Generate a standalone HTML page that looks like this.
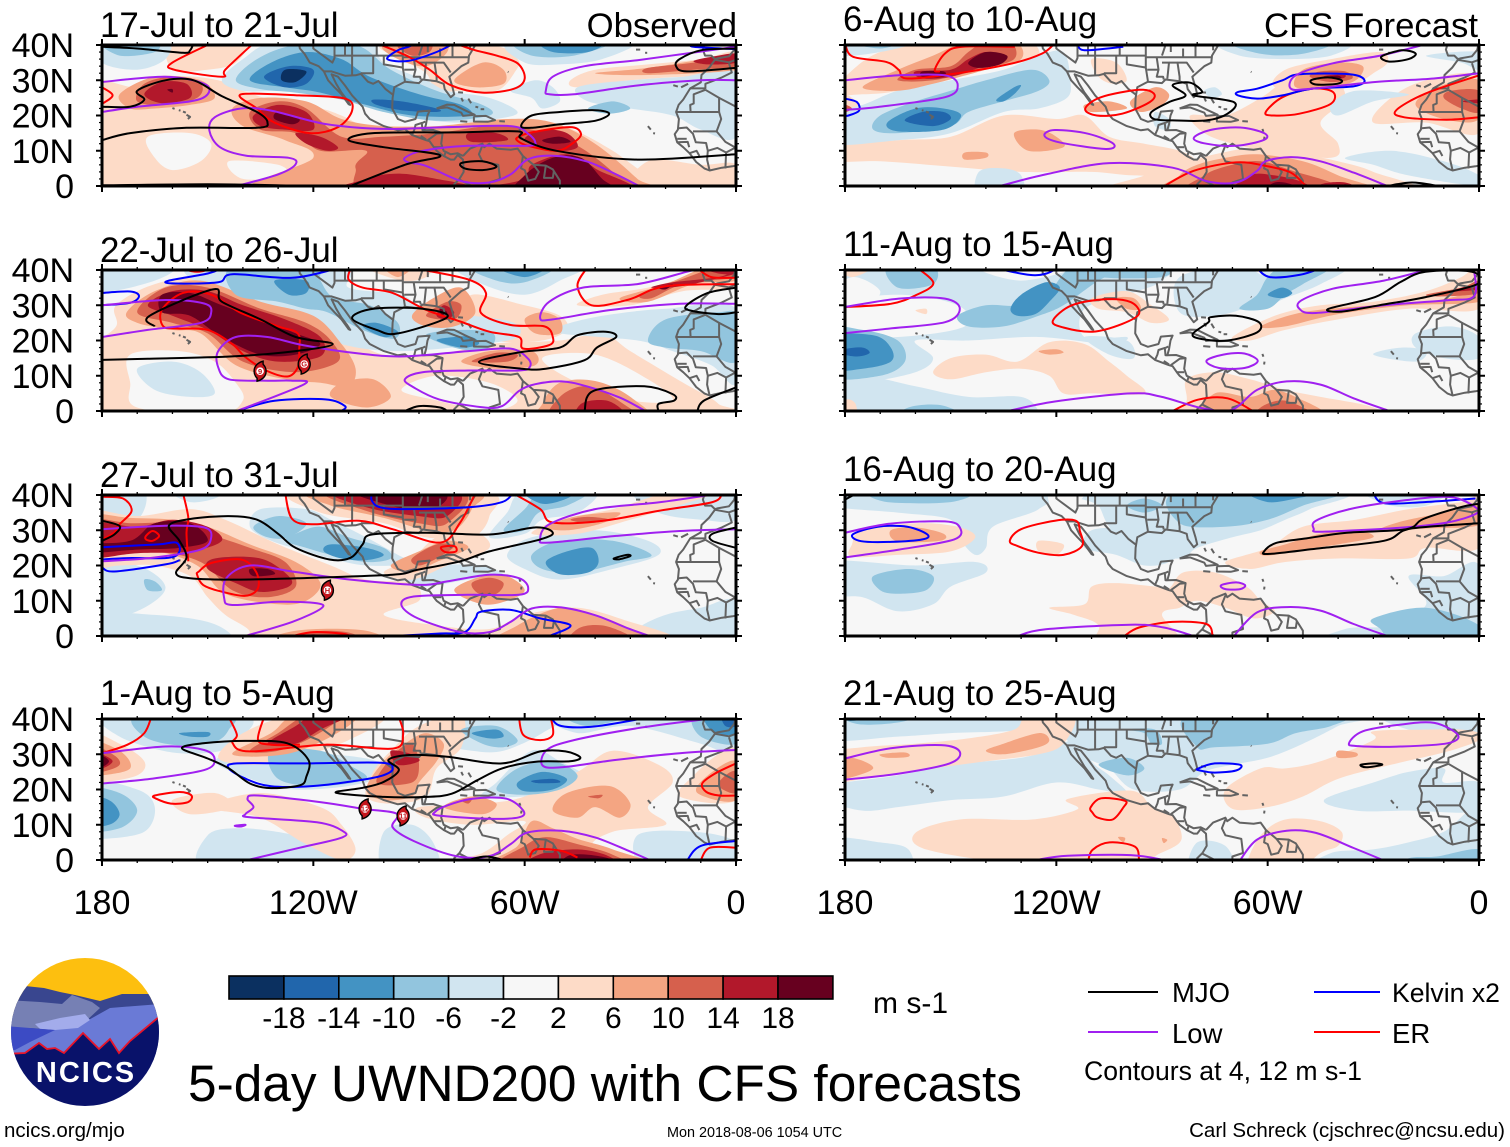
<!DOCTYPE html>
<html lang="en">
<head>
<meta charset="utf-8">
<title>5-day UWND200 with CFS forecasts</title>
<style>
html,body{margin:0;padding:0;background:#fff;}
svg{display:block;font-family:"Liberation Sans",sans-serif;}
</style>
</head>
<body>
<svg id="chart" xmlns="http://www.w3.org/2000/svg" width="1510" height="1147" viewBox="0 0 1510 1147">
  <rect width="1510" height="1147" fill="#fff"/>
  <g id="panels"></g>
  <g id="colorbar"></g>
  <text x="873" y="1013" font-size="30">m s-1</text>
  <text x="188" y="1101" font-size="51.4">5-day UWND200 with CFS forecasts</text>

  <g>
    <line x1="1088" y1="992" x2="1158" y2="992" stroke="#000" stroke-width="2"/>
    <text x="1172" y="1002" font-size="27.5">MJO</text>
    <line x1="1314" y1="992" x2="1380" y2="992" stroke="#0000ff" stroke-width="2"/>
    <text x="1392" y="1002" font-size="26.6">Kelvin x2</text>
    <line x1="1088" y1="1032" x2="1158" y2="1032" stroke="#a020f0" stroke-width="2"/>
    <text x="1172" y="1043" font-size="27.5">Low</text>
    <line x1="1314" y1="1032" x2="1380" y2="1032" stroke="#ff0000" stroke-width="2"/>
    <text x="1392" y="1043" font-size="27.5">ER</text>
    <text x="1084" y="1080" font-size="26.6">Contours at 4, 12 m s-1</text>
  </g>

  <g>
    <clipPath id="logoClip"><circle cx="85" cy="1032" r="74"/></clipPath>
    <g clip-path="url(#logoClip)">
      <rect x="10" y="957" width="150" height="60" fill="#fdbf0f"/>
      <path d="M5 990 L25 986 L44 988 L60 992 L75 995 L100 1001 L122 994 L160 994 L160 1060 L5 1060Z" fill="#39468f"/>
      <path d="M5 1000 L40 1002 L62 1004 L72 995 L92 1002 L100 1008 L85 1022 L60 1030 L30 1028 L5 1030Z" fill="#7680b4"/>
      <path d="M5 1052 L50 1030 L85 1022 L110 1008 L160 1004 L160 1020 L130 1042 L118 1054 L99 1050 L83 1034 L64 1054 L46 1050 L39 1044 L25 1054 L5 1056Z" fill="#6a7ad6"/>
      <path d="M35 1024 L60 1018 L85 1014 L90 1020 L78 1028 L55 1030 L40 1029Z" fill="#a3aceb"/>
      <path d="M5 1026 L30 1028 L55 1030 L30 1042 L15 1050 L5 1052Z" fill="#3c4bc4"/>
      <path d="M5 1054 L25 1053 L39 1043 L47 1049 L55 1048 L64 1053 L83 1033 L99 1049 L110 1039 L119 1053 L130 1041 L160 1016 L160 1110 L5 1110Z" fill="#09126a"/>
      <polyline points="5,1054 25,1053 39,1043 47,1049 55,1048 64,1053 83,1033 99,1049 110,1039 119,1053 130,1041 160,1016" fill="none" stroke="#e8142a" stroke-width="1.8"/>
      <text x="86" y="1082" font-size="29" font-weight="bold" fill="#fff" text-anchor="middle" letter-spacing="2">NCICS</text>
    </g>
  </g>

  <text x="4" y="1137" font-size="20.5">ncics.org/mjo</text>
  <text x="667" y="1137" font-size="14.4">Mon 2018-08-06 1054 UTC</text>
  <text x="1505" y="1137" font-size="20.5" text-anchor="end">Carl Schreck (cjschrec@ncsu.edu)</text>
</svg>

<script>
/* ---------- axes ---------- */
const latTickValues = [0, 10, 20, 30, 40];
const latTickLabels = ['0', '10N', '20N', '30N', '40N'];
const lonTickValues = [180, 120, 60, 0];
const lonTickLabels = ['180', '120W', '60W', '0'];

/* ---------- colour scale ---------- */
const colorbarLabels = [-18, -14, -10, -6, -2, 2, 6, 10, 14, 18];
const colorbarColors = ['#0b3060', '#2166ac', '#4393c3', '#92c5de', '#d1e5f0', '#f7f7f7', '#fddbc7', '#f4a582', '#d6604d', '#b2182b', '#67001f'];
const shadeLevels = [-20, -16, -12, -8, -4, 0, 4, 8, 12, 16, 20];

/* ---------- base map (degrees west, degrees north) ---------- */
const coastLines = [
 [126,40,124,40,123.8,39,122.5,37.5,121,35,118.5,34,117,32.5,115.8,30,114,28,112,26,110,23.2,109.5,23,110.5,24.5,112,26.5,113.5,29,114.8,31.7,113,31,111,28.5,109,25.7,106,22.5,105.3,20.5,104,19,100,17,96,15.8,94,16.1,92,14.5,88,13,87,12.7,85.8,11,85,10,83,8.5,81,7.5,80,7.5,79,8.8,77.5,7.5,77.3,4,78.5,2,80,0.5,80.2,-1],
 [77.5,8.5,79,9.3,81,9,83,10,83.7,12,83.3,15,86,15.9,88.5,15.8,88,17.5,87.6,20,87,21.4,90.3,21.1,91,19,94,18.2,96,19,97.6,22,97.5,25,97,28,94,29.6,90,29.2,89,30.2,85,29.7,83,29,82.7,27.5,81,25.2,80,26,80.5,28,81.4,31,78,34,76,35,75.8,37,74,40],
 [77.5,8.5,75.5,10.6,72,12,71.5,11,70,12,68,10.6,64,10.3,62,10.6,60.5,8.5,57.5,6,54,5.8,52,4.7,50,1.5,50,-1],
 [72,11.5,73,9,72,7,67.5,6,67,2,70,1,70,-1],
 [60.5,8.5,61,5,60,4.5,59,1.5,57,2,56,4,57.5,6],
 [54,5.8,54.5,2.3,52,2.3,51.7,4.3],
 [78.5,1.8,75,0],
 [117,32.5,114.8,32.5,111,31.3,108,31.4,106.5,31.8,104.5,29.6,103,29,101.5,29.8,99.5,27.5,97.4,25.9],
 [92,14.5,91.3,16,91,17.3,89.2,17.9,89,15.8,88.5,15.8],
 [89,17.9,88.2,18.3],[89.5,14.2,88,13.2],[87.5,13,85,14.8,83.2,15],[85.7,11,83.7,11],[82.9,8.2,82.5,9.5],
 [124,42,120,42,120,39,114.6,35,114,36.3,114,42],
 [111,41,111,37],[109,41,109,31.3],[103,37,103,32,106.5,32],[114,37,94.6,37],[109,41,102,41,102,37],[100,37,100,34.5,94.5,33.6],
 [94.6,40,94.6,33.6,94,29.8],[94.5,36.5,76,36.5],[94.2,33,91.2,33],[91.5,36.5,91,33,91.5,31,89.7,31,89.5,30.2],
 [90,35,88,35,88.5,30.4],[88,35,85.6,35,85,31,85,29.9],[85.6,35,83,35,81,32.2],[84,39,84,36.5],[80.5,40,80.5,36.5],[75.5,38.5,75.5,40],[90,37,89,40],[87.5,38,87.5,41],
 [85,22,82,23.1,80,23,77,21.5,74.2,20.2,77.5,19.9,78,20.8,82,22.3,85,22],
 [74.4,19.8,71,19.9,68.4,18.7,70.5,18.2,74.4,18.3,74.4,19.8],
 [78.3,18.4,76.3,18.2],[67.2,18.4,65.6,18.3],
 [78.9,26.6,77.5,26.5],[78,25,77.5,24],[76,24.8,75.2,23.5],[74,22.5,73.2,22.3],[72.5,21.8,71.5,21.8],
 [61.5,16.2,61.2,15.4],[60.9,14,61,13.2],[64.8,32.4,64.6,32.3],[28.4,38.7,27.2,38.7],[25.8,37.8,25.2,37.8],
 [17.8,28.6,16.5,28.2],[15.6,28,13.6,29],[25,17,24.2,16],[23.5,15,23,14.9],
 [160,22.1,159.4,21.9],[158.2,21.5,157.7,21.4],[157,21.1,156.2,20.8],[156,20.2,155,19.6,155.6,19],
 [9,40,9.4,38.7,8.8,37,7,37,6,36,5.3,36.2,2,36.8,0.5,38.6,0.2,40],
 [6,35.8,7.6,33.6,9.8,31.5,10,29.4,13,27.7,15,24.5,16.3,23,17,21,16.2,19,16.5,16,17.4,14.7,16.7,12.4,15,11,13.2,9.3,11.3,6.8,9,5,7.5,4.4,4,5.2,1,5.6,0,5.8],
 [6,35.8,2,35.1,0,35.8],
 [13,27.7,8.7,27.7,8.7,29,4,30.8,1.2,32.2,2,34.8],
 [8.7,27.3,4.8,25,4.8,21,12.9,21,13,23,12,23.4,12,26,8.7,27.3],
 [17,21,12.9,21],[4.8,25,0,22.5],
 [16.3,16.4,14,16.6,12.2,14.8,11.4,12.4,8.5,12.2,8,10,8.2,7.5,7.5,4.4],
 [12.2,15.5,5.5,15.5,4.2,19,4.8,21],[5.5,15.5,3,12.5,0,10.8],[16.7,13.4,14,13.4],[16.7,12.4,13.7,12.5,13.3,11],[13.2,9.3,11.2,10,10.4,8.5],
 [3,5,2.8,9.5,5.3,10.8,8,10],[2.8,9.5,0,11],[0,5.8,0.2,11]
];

/* ---------- panel 1: 17-Jul to 21-Jul ---------- */
const p1Shading = [
 [4,185,28,170,28,158,31,147,30,140,27,130,24,118,22,112,20,105,17,95,17,85,17,70,18,60,19,52,18,44,15,35,10,28,5,20,0,20,-3,185,-3],
 [4,25,7,10,6,0,6,0,-3,30,-3],
 [4,100,40,95,36,88,32,85,27,78,27,68,27,63,32,62,36,70,40],
 [4,160,33,150,33,142,35,140,41,160,41],
 [4,47,30,40,33,25,34.5,10,36,0,38,0,31,15,31,30,30,45,28],
 [-4,180,41,180,35,170,33,162,36,162,41],
 [-4,146,30,140,36,130,41,105,41,100,35,88,30,82,27,70,25,62,21,68,19,80,18,95,20,108,24,118,27,130,27,140,27],
 [-4,64,41,60,35,50,34.5,38,36,30,41],
 [-4,45,28,30,30,15,31,0,32,0,14,10,16,18,20,30,22,42,24],
 [-4,64,27,58,25,55,22,50,24,52,28,57,30],
 [0,167,14,155,15,149,12,152,7,160,4.5,165,8],
 [0,144,7,130,6,128,3,140,2],
 [0,87,7,82,6,80,4,86,4],
 [8,143,22,135,25,122,24,112,19,100,17,85,17,65,19,52,18,40,12,28,2,24,-3,135,-3,120,8,128,13,140,17],
 [8,172,22,175,26,165,31,152,30,148,25,155,23,165,22],
 [8,100,40,96,36,88,34,82,38,84,41],
 [8,80,30,72,35,66,33,66,29,74,28],
 [8,40,32,25,33.5,0,37,0,33,25,31.5],
 [-8,180,41,175,37,165,38,165,41],
 [-8,142,30,136,36,125,40,108,40,98,33,85,27,72,23,70,20,85,18.5,100,21,112,24.5,125,26.5,135,27.5],
 [-8,62,41,58,37,46,37,36,41],
 [-8,42,22,35,24,30,22,36,20.5],
 [12,138,21,130,24,122,22,112,14,100,14,85,15,70,17,58,16,46,12,35,4,30,-3,100,-3,108,5,105,10,118,10,125,15,135,16],
 [12,170,24,168,29,160,31,152,29,153,25,162,23],
 [12,25,33.5,12,35,0,37,0,34,12,33,25,32],
 [12,96,40,92,37,87,38,87,41],
 [-12,138,30,132,35,122,38,112,36,104,31,90,26,78,23,76,20,92,20,105,23,118,26.5,128,28],
 [-12,55,41,52,38,42,38,38,41],
 [16,112,-3,105,2,95,3.5,82,1.5,72,0,60,2,58,6,48,9,40,5,32,-3],
 [16,125,15,118,14,113,11,116,10,122,12],
 [16,137,20,130,23,122,21,120,16,128,16,135,17],
 [16,76,15,68,15,65,13,75,12.5],
 [16,60,13,55,16,48,15,45,11,52,10],
 [16,168,26,163,29.5,156,29,155,25,163,23.5],
 [16,12,35.5,5,37,0,37.5,0,35,8,34.5],
 [-16,134,31,127,34,120,33,122,29,128,28],
 [-16,103,24.5,95,24,85,22,85,21,95,21.5,102,23],
 [20,130,21,124,19,126,17.5,131,19],
 [20,55,13,50,14,47,12.5,52,12],
 [20,62,-3,60,3,52,8,44,8,38,2,33,-3],
 [20,161.5,27.3,160,27.5,160,26.5],
 [-20,128,33,122,32.5,125,29.5,129,30]
];
const p1Mjo = [
 [0,180,22.5,172,22.5,168,24.5,170,27,162,30,154,30,146,25.5,136,21,133,18,136,16.5,156,16.5,172,15,180,13],
 [0,180,39.5,170,39,157,37.8,155,38.5,154,40.5],
 [1,61,17,58,20,50,21,40,21.5,36,20.5,40,18.5,50,17.5,58,16.5],
 [0,112,-1,94,6,84,8.7,100,11,110,13,103,15,80,15.2,62,15.5,61,13.5,51,10,28,7.5,0,9],
 [1,78,6.5,72,7,68,5.5,72,4.5,77,5],
 [0,0,39,10,38.5,16,36,17,34,14,32.5,0,33.5],
 [0,180,0.2,150,0.5,125,0.1]
];
const p1Low = [
 [0,180,29.5,162,31,151,29,150,26,155,24,170,22.5,180,21],
 [0,141.7,0,130,3.3,125,6.2,127,8,139,8.6,146.5,11,149.5,15.7,148,19.5,140.5,22,132,21.4,116.6,17.6,100,16.2,82,16.7,64,17,59,14.8,57,12.4,59,11.4,76,11.4,89,10,94,8,93,6.7,88,5.7,78,1.4,70,1,64,3.3,59,7.6,52,8.6,42.5,7,34,3.3,27.5,0],
 [0,0,30,10,30,28,28.5,46,26,53,26,54,27,52,31,43,34,28,35.7,14,37.6,0,39.5]
];
const p1Er = [
 [0,149,40.5,160,35,159.5,33,146,31,145,33,137,40.5],
 [0,180,28,177,25.7,180,23.3],
 [1,140.5,26,136,22,131,18,121,15,113,16.7,109,21.4,111,24.8,124,25.7],
 [0,102,40.5,93,36.7,87,33,81,28.6,72,26.5,63,27.6,60,30.5,62,34.8,68,37,74,38.5,80,40.5],
 [1,62,13.8,58,15.2,47,16.7,44,14.8,46,12.4,50.8,10,59,11.4,62,12.8]
];
const p1Kelvin = [
 [0,80,40.5,85,38,93,35.5,99,36,96,38.5,93,39.5,91,40.5],
 [0,12.5,40.5,12,39.5,0,38.8]
];
const p1Storms = [];

/* ---------- panel 2: 22-Jul to 26-Jul ---------- */
const p2Shading = [
 [4,183,18,176,24,176,30,165,36,150,38,135,33,120,28,110,21,100,16,85,16,70,19,50,20,38,22,30,17,15,8,5,2,5,-3,185,-3,185,10],
 [4,45,30,38,33,25,35,10,39,0,41,0,35,15,34,30,30],
 [4,105,41,95,37,88,38,88,41],
 [4,75,33,60,30,50,27,48,23,55,20,68,20,76,26],
 [-4,180,41,180,34,165,37,160,41],
 [-4,155,41,147,33,135,28,122,25,112,19,95,17,72,19,62,21,63,25,75,27,88,28,95,33,110,35,112,41],
 [-4,78,41,72,36,60,33,50,37,45,41],
 [-4,50,24,38,27,20,29,0,29,0,8,7,13,18,17,28,20,50,22],
 [0,172,16,158,17,148,14,142,8,140,3,147,-1,170,1,172,8],
 [0,85,10,70,8,62,3,70,0,85,3,95,6],
 [0,55,15,40,16,25,9,18,3,30,3,45,8],
 [-4,170,12,160,14,152,11,148,5,155,4,165,6],
 [8,173,28,165,34,152,37,135,31,120,27,112,19,108,12,110,7,118,8,128,9,142,13,152,22,160,23,170,25],
 [8,112,8,103,9,98,4,105,1,115,4],
 [8,78,14,70,17,58,17,57,13,68,12],
 [8,55,2,50,8,40,8.5,30,4,25,-3,55,-3],
 [8,33,32,20,36,8,41,0,41,0,37,12,36,25,31],
 [8,92,27,86,32,78,35,74,28,80,24,88,24],
 [8,100,41,96,38,92,41],
 [8,60,26,55,28,50,26,50,22,57,22],
 [-8,25,20,20,26,5,28,0,27,0,14,10,17,20,18],
 [-8,143,41,142,33,130,31,122,29,116,28,106,23,97,20.5,96,25,104,30,114,32,118,37,120,41],
 [-8,88,21.5,78,17.5,70,18,69,22,78,23],
 [-8,75,41,68,37,60,36.5,52,41],
 [12,170,28,162,35,150,35,135,29,122,25,115,20,113,14,125,11,140,14,150,22,160,25],
 [12,75,14,68,16.5,62,16,65,14],
 [12,52,-3,50,4,42,7,32,2,28,-3],
 [12,27,33,15,37.5,5,41,0,41,0,38,15,36,24,32],
 [12,88,27,82,31,78,30,80,26],
 [-12,131,37,127,33,122,33.5,122,37],
 [-12,106,24,100,21,96,22.5,102,25],
 [-12,85,20,78,18,73,19,75,21,80,21],
 [-12,68,41,60,38,54,41],
 [16,167,30,160,34,150,34,140,30,128,26,118,21,118,15.5,130,14,140,17,150,23,160,27],
 [16,45,-3,44,2,37,3,32,0,32,-3],
 [16,24,35,18,36.5,5,38,0,40,0,39,15,35.5],
 [16,10,41,5,39,0,39,0,41],
 [16,85,27,83,30,80,28,82,26],
 [20,163,33,155,33.5,146,30,135,26,125,22,118,19,125,16,135,16,146,21,155,27,163,28],
 [20,22,35,18,36,20,34.5],
 [20,84,29,83.5,27,82,28]
];
const p2Mjo = [
 [0,165,24,166.5,27,148.5,34.5,146,31,135,26,125,21,114.5,19,125,17,143,15.5,167,14.8,180,14.5],
 [1,109,26.3,103,29,89,29,82,26.6,96,22,102,23],
 [1,73,13.9,61,16.7,50,18,45,21.5,37,22.5,34,21,39.5,18,43,14.4,54,12,61,12],
 [0,94,0,90,1.4,84,1,82,0],
 [0,43,0,40.5,5.7,26,7,18,4.8,17.5,3,22,2,22,0],
 [0,11,0,9,3,0,6.7],
 [0,0,35,8,33.5,14,30,13,28.5,5,27.5,0,28]
];
const p2Low = [
 [0,180,30,162,31.5,151,30.5,149,28,152,25,167,23,180,21],
 [0,141.7,0,122.6,7.6,126,8.6,133,8.6,144,9,147,12.4,147,17,142,21,133,21,122.6,18.6,107,16.3,94,15.5,76,17,64,17.7,59,14.8,58.6,12.4,61.6,11.5,76,11.5,89,11,94,9,91.5,6.7,84.3,3.3,72.4,1.1,66.4,1.4,61.6,5.7,57,7.6,49.6,8.4,42.4,7,33,3.8,25.7,0],
 [0,0,30.4,16,30.4,35,28.7,52,26,55.6,26.3,53,31,43.5,35,28,36,14,39.5,8,41]
];
const p2Er = [
 [0,158,40.5,153,39.5,148,40.5],
 [1,162.6,24,163,28.7,157,33.5,149,33,140.5,27.8,130,24,124.4,22,124,17.2,124.4,12.4,127.4,9.8,133.4,11.5,139.3,15.3,143,19,150,23,158.5,23.4],
 [0,91.5,40.5,76,37.3,71,33.5,72.4,27.8,64,24.4,54.4,24,52,21,53,18.7,60.4,17.7,61.6,21,70,22.5,78.3,25.4,88,28.7,97.5,33.5,106,35,110,37.3,109.4,40.5],
 [0,42.4,40.5,45,35.4,41,30,30.5,31.6,20,35.4,0,36],
 [0,11,40.5,7,38,0,37.8]
];
const p2Kelvin = [
 [0,113,40.5,126,37.8,143,38.8,147,36.5,160,36.2,161,37,150,39,146,40.5],
 [0,180,33.5,172,33.9,169.5,32.6,172,30.7,180,30],
 [0,141.7,0,131,2.9,116.6,3.3,111,1.4,112,0]
];
const p2Storms = [[135.1,11.3,'9'],[122.6,13.3,'G']];

/* ---------- panel 3: 27-Jul to 31-Jul ---------- */
const p3Shading = [
 [-4,180,41,180,33,170,33,168,41],
 [-4,185,21,170,20,162,14,168,8,180,4,185,6],
 [-4,183,6,165,6,150,4,143,0,145,-3,183,-3],
 [-4,138,31,135,36,122,36,115,33,105,28,96,23,92,20.5,105,20,115,22,122,24,132,27],
 [-4,70,28,65,35,60,41,40,41,45,35,55,33,60,29],
 [-4,65,23,58,28,40,30,25,27,22,23,35,19,50,16,60,19],
 [-4,95,18,85,20,72,20,66,17,76,16,90,14],
 [-4,20,6,10,8,0,10,0,-3,30,-3,28,2],
 [-4,28,41,22,35,10,33,0,33,0,41],
 [-4,160,41,155,38,148,39,147,41],
 [4,185,35,170,34,155,36,145,33,130,26,115,20,105,16,92,15,90,10,100,6,85,3,70,2,60,6,45,8,30,4,18,0,18,-3,145,-3,138,1,145,6,150,11,155,17,165,20,175,20,185,20],
 [4,100,18,92,22,85,28,75,30,70,25,82,20,92,16],
 [4,125,41,118,35,100,32,88,28,75,28,70,34,72,41],
 [4,58,29,50,33,35,36,18,41,5,41,18,36.5,30,33,45,29],
 [8,185,34,172,33.5,160,33,150,31,138,26,125,21,118,15,122,10,130,9,145,12,153,20,165,24,180,23,185,23],
 [8,98,20,90,24,82,27,76,25,85,21,92,18],
 [8,120,41,115,37,100,33.5,88,30,80,30,75,36,75,41],
 [8,54,31,45,34,33,35,38,32,48,30],
 [8,80,13,72,17,65,17,60,13,65,10,72,9],
 [8,62,3,50,8,40,6,30,2,25,-3,68,-3],
 [8,135,-3,125,1.5,105,1.5,100,-3],
 [-8,168,16,165,15.5,163,13,167,13],
 [-8,118,31,110,28,100,25,98,22,105,21,115,23,122,25,128,27,125,29],
 [-8,137,31,130,34,122,32,127,28,133,28],
 [-8,66,30,60,36,55,41,42,41,48,37,56,35,60,30],
 [-8,58,23,50,27,35,27,24,23,32,21,45,18,55,19],
 [12,185,33,172,32,160,32,150,29,138,25,128,21,125,14,133,11,143,13,152,21,165,24,180,24,185,24],
 [12,92,22,85,26,80,25.5,85,22,90,20],
 [12,116,41,105,35.5,90,32,82,32,78,41],
 [12,47,33,42,33.8,36,33,42,32],
 [12,75,15,70,16.5,66,15,68,12,73,12],
 [12,45,2,38,3,30,0,28,-3,47,-3],
 [12,130,-3,122,1,110,1,105,-3],
 [-12,115,26,105,25,100,23,105,21.5,112,22,117,24],
 [-12,54,21,48,24,41,25,39,21,42,18,50,17.5],
 [-12,60,41,55,37.5,48,39,47,41],
 [16,185,32,170,31,160,33,150,31,146,27,155,24,170,23.5,185,22.5],
 [16,148,22,135,22,127,17,127,14,135,12.5,142,15,150,19],
 [16,114,41,105,36.5,90,34,82,34,80,41],
 [16,125,-3,120,0.5,112,-3],
 [20,185,26,172,27,165,32,155,32,150,27,158,25,170,24.5,185,23.5],
 [20,138,19,133,19,131,17.5,137,17],
 [20,108,41,100,37.5,92,36,84,37,84,41]
];
const p3Mjo = [
 [0,180,32.7,175,31.2,176.5,28.8,180,27],
 [1,161,31.3,155,33.2,144,34,136,33,130,29,125,25,115.4,21.7,109.4,22.2,106,26,103.4,28.8,88,29.3,70,28.8,56.8,30.8,52,29.3,55.6,27.4,70,24,78.3,21.2,90.3,18.8,97.5,17.4,123.8,16.4,141.7,16,155,16.4,159,17.9,156,22.2,158,27],
 [1,34.7,22,31,23,30,22.7,33,21.8],
 [0,0,30.8,6.7,29,6.7,27,0,25]
];
const p3Low = [
 [0,180,30.3,162,31.3,151,30.8,149,28,152,24.5,165.6,22.2,180,21.2],
 [0,139.3,0,126,4,117.8,7.8,119,9.3,130,9.7,143,8.8,145.3,10.7,144.7,16.4,138,20,126,18.3,109.4,16,90.3,14.5,82,15.5,70,17.4,61.6,16.4,59,13.6,61.6,11.7,76,11.7,91.5,11.2,95,8.8,90.3,5,78.3,1.1,70,1.1,64,4,58,7.8,49.6,8.1,40,5.9,30.5,2.1,24.5,0],
 [0,0,30.3,16,29.8,34,28.4,53,26.5,55.6,27.4,53,31.7,40,36,22,37.9,4,40.5]
];
const p3Er = [
 [0,180,39.5,174,39,171.6,35.5,175,31.7,176.5,29.3,180,27.4],
 [0,157,40.5,155.5,33.6,156,29.3,155.5,21.2],
 [1,167.5,28.4,165.6,29.8,163.8,28.4,165.6,27,167.5,27.4],
 [1,152.5,18.3,149,20.7,140.5,21.7,136.3,18.3,135.7,13.6,139.3,11.4,146.5,12.7,151.3,14.5,153,17.4],
 [0,128,40.5,126,33.2,120,31.7,107,32.7,97.5,30.3,84,26.5,78.3,32.2,74,40.5],
 [1,83.7,25.2,80,25.5,79.5,24,82.5,23.8],
 [0,63.3,40.5,55.6,36,52,32.2,37.7,32.7,22,35.5,6.7,38,4,40.5],
 [0,126,0,120,1.1,112,0.7,109.4,0]
];
const p3Kelvin = [
 [0,180,25.2,164,26,159,26.5,158,24,161,22.2,172.8,22.1,180,21.7],
 [0,180,19.5,176.5,18.3,162,20.3,158,21.5],
 [0,103.4,40.5,103.4,38.4,101,36.5,94,36,76,36.5,66.4,38,63.3,40.5],
 [0,97.5,0,84,0.7,77,1.1,74,5,72.4,6.9,64,7.4,55.6,5,47,3,53,0]
];
const p3Storms = [[116,13,'H']];

/* ---------- panel 4: 1-Aug to 5-Aug ---------- */
const p4Shading = [
 [-4,178,41,175,35,160,30.5,146,31,140,35,140,41],
 [-4,185,22,170,20,165,15,168,8,180,6,185,7],
 [-4,148,28,135,31,115,30,102,28,100,24,110,21,125,20,135,22],
 [-4,72,18,68,22,58,31,50,28,42,23,48,19,60,18],
 [-4,86,38,78,41,50,41,55,36,66,31,75,31,83,33],
 [-4,50,41,45,36,30,38,10,33,0,30,0,41],
 [-4,150,7,140,9,125,7,118,4,110,-3,150,-3],
 [-4,100,8,92,10,86,5,85,-3,100,-3],
 [-4,28,7,12,8,0,5,0,-3,25,-3],
 [4,185,36,175,33,168,28,170,24,180,22,185,22],
 [4,147,29,140,36,125,41,100,41,110,34,125,29,137,27],
 [4,105,18,103,25,98,31,90,38,78,41,78,32,85,26,88,18,98,16],
 [4,150,15,135,19,118,15,112,10,108,3,112,0,123,5,135,12],
 [4,160,17,148,19,143,15,155,13],
 [4,90,15,72,16,60,18,45,25,35,31,22,27,18,22,25,15,20,10,35,8,40,3,18,-3,85,-3,72,2,65,7,60,11,75,10,88,12],
 [4,16,18,12,24,5,30,0,31,0,17],
 [-8,170,41,168,35,158,32.5,148,33.5,144,37,144,41],
 [-8,185,20,175,19,170,14,175,9,185,9],
 [-8,132,31,118,31,110,27,105,23,118,21,130,23],
 [-8,68,20,62,26,52,28,45,24,50,20,60,18.5],
 [-8,78,37,72,33,66,32,62,34,68,38],
 [-8,48,41,42,38,30,41],
 [-8,12,41,10,35,0,33,0,41],
 [8,185,34,175,31,172,26,180,24,185,24],
 [8,143,30,132,36,125,41,108,41,115,35,128,30],
 [8,105,20,100,28,94,33,88,36,83,33,85,28,90,22,92,18,100,17],
 [8,52,14,48,19,36,21,30,16,33,12,40,15,45,12],
 [8,83,15,75,18,68,16,72,13],
 [8,70,-3,62,4,58,11,52,9,45,6,35,3,22,-3],
 [8,11,19,8,24,0,28,0,17],
 [12,185,33,177,30,175,27,180,25,185,25],
 [12,138,31,130,36,122,41,112,41,120,35,130,31],
 [12,102,22,97,30,92,33,90,27,92,22],
 [12,78,17,75,17.5,76,16],
 [12,42,18,38,18.5,39,17.5],
 [12,68,-3,60,4,54,6.5,45,4.5,35,1.5,30,-3],
 [12,5,21,3,24,0,25,0,19],
 [-12,158,36,155,35,150,35,150,36.3],
 [-12,185,18,178,17,175,13,178,10,185,10],
 [-12,62,22,55,25,48,23,52,20,60,19.5],
 [-12,75,36,70,34.5,66,35,68,37],
 [-12,9,41,6,36,0,36,0,41],
 [16,185,32,180,30,177,28,180,26,185,26],
 [16,133,33,125,38,120,41,110,41,118,37,125,33],
 [16,98,31,92,30,90,28,96,27],
 [16,60,-3,56,1.5,45,3,36,1,33,-3],
 [-16,58,22.5,52,23,50,22,56,21.8],
 [-16,4,41,3,38,0,38,0,41],
 [20,180,29.5,178,28,180,26.5,182,28],
 [20,50,-3,48,1,42,1.5,35,0,35,-3]
];
const p4Mjo = [
 [1,157.3,31.7,151.3,33.1,139.3,33.8,127.4,33.1,121.4,28.4,122,23.6,123.8,21.2,132,20.4,138,21.7,144,26,150,28.8],
 [1,113.6,19.1,105.8,20.5,99.9,22.2,95.7,25.5,98.7,28.4,92.7,29.8,82,29.3,66.4,27.4,55.6,30.8,48.4,30.8,44.2,29.1,47.2,28,56.8,27.9,66.4,26,73.5,22.6,80.7,18.8,87.9,17.9,99.9,17.9],
 [0,76,0,71,1,66,0]
];
const p4Low = [
 [0,180,30.3,162,32.2,151,31.2,148,28.4,151,25.5,165.6,23.1,180,21.7],
 [0,138.7,0,123.8,3.5,111.8,6.4,111.8,8.3,119,10.7,138,12.1,139.3,13,137,15,138.7,17.4,135.7,18.3,117.8,16.4,105.8,14.5,96.3,13.1,97.5,9.3,91.5,5.4,79.5,1.1,70,1.1,64,4.5,59.2,7.8,49.6,8.3,40,6.4,30.5,2.6,24.5,0],
 [1,85.5,13.6,82,15.5,74.8,17.4,65.2,17.4,60.4,14,61.6,12.1,70,11.7,84.3,12.6],
 [1,142.3,9.7,139.3,10,140.5,9.5],
 [0,0,31.2,16,30.3,34,28.4,49.6,26.3,55,26.9,53.7,31.2,46,34,28,37.4,10,39.8,5,40.5]
];
const p4Er = [
 [0,180,30.3,172.8,32.7,168,36,166,40.5],
 [1,165,18.3,158,19.3,154.6,18.3,155.6,16.4,160.4,16,164.6,17.4],
 [0,144,40.5,141.7,35.5,142.9,33.1,138,30.8,116.6,32.7,97.5,31.6,94.5,35.6,95.7,40.5],
 [0,134,40.5,135.7,34.1,132,32.7,123.8,32.7],
 [0,61.6,40.5,60.4,35.5,55.6,34,52,35.5,52.6,40.5],
 [0,0,27.4,6,24.5,9.6,21.7,8.4,19.3,4.8,18.3,0,18.3],
 [0,10,0,7.4,3.5,0,3.5],
 [0,58.6,0.7,56.8,3,49.6,2.6,45,0.7]
];
const p4Kelvin = [
 [1,144,26,141.7,27.4,123.8,27.4,101,27.6,97.5,26,99.9,24.1,107,22.6,120,21,132,20.9,139.3,23.1],
 [0,52.6,40.5,49.6,38,40,37.9,24.5,40.5],
 [0,13.8,0,10,4,0,5.4]
];
const p4Storms = [[105.3,14.5,'12'],[94.5,12.5,'11']];

/* ---------- panel 5: 6-Aug to 10-Aug ---------- */
const p5Shading = [
 [4,185,11,165,13,150,14,135,20,120,19,112,20,105,14,95,12,85,10,80,7,78,3,98,3,110,4,130,4,150,5.5,170,7,185,7],
 [4,105,-3,95,3,85,6,75,9,62,11,50,9,40,7,30,4,18,-3],
 [4,72,20,62,25,55,30,48,33,42,32,38,25,45,18,40,12,42,8,60,10,70,12,78,15,82,20],
 [4,58,28,55,33,42,36,28,38,26,35,30,32,35,29,45,26],
 [4,30,18,25,25,15,30,0,31,0,15,15,18],
 [4,110,36,103,35,100,30,104,29,108,31],
 [4,185,26,180,31,170,38,150,42,130,42,125,37,135,34,150,31,165,27,175,26],
 [4,183,27,178,25,176,21,183,20],
 [-4,182,41,182,37,170,38,160,41],
 [-4,185,20,175,23,165,27,150,30,135,33,125,37,118,38,116,30,117,25,125,22,135,21,150,15,165,13,185,12],
 [-4,40,20,30,24,20,26,35,27,42,23],
 [-4,15,37,5,35,0,33,0,38],
 [-4,38,8,25,10,10,7,0,3,0,0,20,3,30,6],
 [-4,73,41,68,37,55,36,42,37,38,41],
 [-4,92,21,88,19,88,16,92,17],
 [-4,78,27,75,28,73,26,76,25],
 [-4,142,4,135,5,130,3,130,-3,142,-3],
 [8,175,28,165,33,155,37,145,41,132,41,130,36,140,33,155,29,165,27],
 [8,52,28,50,33,40,35,33,34,35,30,42,28],
 [8,18,23,12,28,0,30,0,19,10,19],
 [8,99,24,92,28,88,26,90,23,96,21],
 [8,112,23,105,24,100,22,110,21],
 [8,88,-3,85,3,80,6,72,8,63,9,50,7,40,3,28,-3],
 [8,132,15,125,16,120,14,118,11,128,10],
 [8,146,9.5,140,9.5,140,8,146,7.5],
 [-8,180,41,170,39,165,41],
 [-8,170,20,160,24,150,27,140,30,127,33,122,30,125,27,135,24,145,21,150,17,165,15,172,16],
 [-8,70,41,62,37.5,50,37.5,42,41],
 [12,165,30,160,33,150,34,145,38,140,41,133,41,132,36,142,33,155,30],
 [12,48,31,45,32.5,38,32.5,36,30.5,42,29.5],
 [12,10,25,8,27,0,27,0,21,5,22],
 [12,82,-3,78,3,70,6,62,7,52,4,42,1,35,-3],
 [12,180,23,178,22,180,21],
 [-12,168,18,160,22,152,22,147,20,152,16,165,15.5],
 [-12,137,24.5,132,28,130,28.5,132,26,135,24],
 [16,160,32.5,150,33,145,36,140,38,136,36,142,33.5,150,31,158,30.5],
 [16,44,31,42,31.5,38,31.5,39,30.5],
 [16,5,24,0,24.5,0,23.5],
 [16,70,-3,65,3,58,3,50,1,45,-3],
 [16,45,0,38,1,30,-3],
 [-16,163,18.5,158,21,152,21,150,19,155,17],
 [20,145,35,140,38,134,37,136,34.5,142,33.5],
 [20,158,32.5,152,32.5,152,31,158,31],
 [20,42.5,31,40,31.3,39,30.6,41,30.5],
 [20,62,-3,58,1,52,0,50,-3],
 [20,40,-3,38,0.5,32,-3]
];
const p5Mjo = [
 [1,87,28.6,82,29.3,78.6,26.7,81,25.7,69.6,23.8,71.4,20.5,77.4,18.6,87,18.6,92.3,19,93,21,88,23.8,83.3,25.7],
 [1,47.7,30,43,30.8,39,30,40.3,29,46.3,28.8],
 [1,27.7,36.7,22,38.5,18,37.6,20,36,25.5,35.3],
 [0,26,0,19,1,11.5,0]
];
const p5Low = [
 [0,180,30,164.7,31.4,151.6,31.4,148,28.6,151.6,25.2,170.7,22.4,180,21.6],
 [1,123.4,14.3,120.4,15.9,110.9,14.8,103.8,12,106,10.5,119.2,12.4],
 [1,81,13.6,76.3,15.9,67.8,16.6,61,15,61,13.1,69,11.4,77.4,12],
 [0,136,0,123,3.3,105,6.5,87,5.2,77.4,1.4,69,1,63,4.3,60.6,7,53.4,8.2,45,7,35.6,3.8,26,0],
 [0,0,32,12.8,30.5,29.5,29.5,47.5,27.6,53.4,27.6,52,31.4,41.5,34.8,28,37,14,40.5]
];
const p5Er = [
 [0,180,40.5,177.8,36.7,168.3,35.2,164.7,32.9,162.3,30.5,148,32,132.4,34.8,124,37.6,120.4,40.5],
 [0,153,32.5,154.5,33,151.6,37.6,146.7,39.5,131.8,39.5],
 [1,111.8,21.9,107.3,25.2,96.5,27.3,92.3,26.2,93.5,23.8,101.3,20.5,108.5,20],
 [1,60.6,20.9,55.8,25.2,47.5,27.6,41.5,26.7,42.1,23.3,51,20.5,58.2,20],
 [0,0,31.4,15.2,26.2,23.6,21.4,21.2,19.5,9.2,18.8,0,19.5],
 [0,89.3,0,81,4.3,69,6.7,60.6,5.7,53.4,3.8,49.2,0]
];
const p5Kelvin = [
 [0,113.8,39.5,111.5,38.5,101,39.5],
 [1,68.4,26.7,63,27.6,55.8,30,51,31.7,36.7,31.7,32.5,30,35.5,28.3,47.5,27.6,55.8,25.7,63,24.8,68.4,25.7],
 [0,180,24.8,176.6,23.8,176,21.4,179,20,180,20]
];
const p5Storms = [];

/* ---------- panel 6: 11-Aug to 15-Aug ---------- */
const p6Shading = [
 [-4,185,38,170,41,95,41,90,37,100,33,112,29,112,21,100,21,105,19,125,21,145,20,160,20,155,15,160,11,175,8,185,8],
 [-4,175,10,160,7,145,4,130,4,125,0,125,-3,185,-3,185,8],
 [-4,70,29,62,34,60,41,38,41,45,36,55,32,60,30],
 [-4,85,38,68,41,60,36,65,30,75,27,85,28],
 [-4,18,22,8,24,0,21,0,15,10,15,18,18],
 [-4,30,16,22,18,15,17,18,14],
 [-4,112,21,100,20,98,15,105,16],
 [0,185,30,165,33,148,30,146,24,165,21,185,22],
 [0,142,41,130,37,115,41],
 [0,178,38,170,34,175,30,185,32],
 [4,182,41,178,38,172,41],
 [4,155,11,150,15,140,16,131,14,122,19.5,112,19,105,14,100,10,95,5,110,5,118,5,122,10,130,12,140,11,150,9],
 [4,70,21,58,27,45,30,30,31,15,34,5,38,0,41,0,29,20,29,40,26,55,23,65,20],
 [4,110,32,100,34,93,30,88,26,93,25,100,28,108,29],
 [4,160,28.5,157,29,157,27.5],
 [4,83,9,75,11,65,9,55,6,45,4,30,1,28,-3,85,-3,83,3],
 [4,180,3,177,2,177,-3,182,-3],
 [8,125,17,120,17.5,118,16.5,122,16],
 [8,62,24,50,28,30,30,15,31,5,33,0,36,0,31,20,30,40,27.5,55,24],
 [8,103,32,98,32,96,29,100,29],
 [8,78,-3,75,5,65,4,58,6,50,3,45,0.5,40,-3],
 [-8,185,23,175,23,165,20,163,14,170,10,185,10],
 [-8,148,27,140,30,130,30,122,34,115,41,100,41,108,37,118,30,125,27,135,24,145,24],
 [-8,168,41,165,35,155,36,155,41],
 [-8,115,41,90,41,90,38,108,38],
 [-8,165,-3,162,1,152,1.5,145,-3],
 [-8,68,29,63,33,60,38,55,41,42,41,50,36,55,33,60,29],
 [12,15,33,5,35,0,37,0,33.5,10,32.5],
 [12,64,-3,62,1,56,3,50,1,44,-3],
 [16,8,34,0,36,0,34.5],
 [16,62,-3,58,0.5,50,-3],
 [-12,185,21,172,21.5,167,18,167,14,175,12,185,12],
 [-12,133,29,130,33,123,36.5,119,35,122,31,126,27.5,131,27],
 [-12,60,33,56,35,53,33.5,56,32],
 [-16,180,17.5,175,18,173,16.5,176,15.5,180,16]
];
const p6Mjo = [
 [1,42.7,29,29.5,32.3,22.3,36.6,15.2,39.5,2,39.5,0.5,36,15.2,32.3,28.4,30,39,28.2],
 [1,76.2,26.6,69,27,62.5,25.2,63,22.3,71.4,20,78.6,20.4,81.3,21.8,76.8,25.2]
];
const p6Low = [
 [0,180,29.5,164.7,31.9,151.6,31.9,147.4,29,151.6,25.2,168.3,23.3,180,22.1],
 [1,77.4,14.2,72.6,16,66.6,16.3,62.8,14.2,66.6,12.2,73.8,12.2],
 [0,133.6,0,120.4,2.7,98.9,5,90.5,4.1,78.6,0.8,70.2,0.3,63,6,54.6,8.4,45,7.5,35.6,3.6,25.4,0],
 [0,1.4,40,1.4,32.6,9,31.4,27,30,46.3,27.8,51,29,50.4,31.4,41.5,34.7,27,37,13,40.5]
];
const p6Er = [
 [0,159.3,40.5,154.9,36.2,160,32.8,167,30.4,180,29.5],
 [1,121,25.6,115.6,30,106,31.7,98.9,30.9,96.5,27.6,101.3,24.7,109.7,22.5,118,23.7],
 [0,87,0,79.8,3.2,71.4,3.6,64.2,0]
];
const p6Kelvin = [
 [0,137.2,40.5,127.6,38.6,122.8,39,119.8,40.5],
 [0,63,40.5,59.4,38,51,38.6,45,40.5]
];
const p6Storms = [];

/* ---------- panel 7: 16-Aug to 20-Aug ---------- */
const p7Shading = [
 [-4,185,41,125,41,125,36,138,31,140,25,143,23,147,27,150,33,165,35,185,37],
 [-4,185,21,160,20,143,21,140,18,150,14,155,9,165,7,175,11,185,12],
 [-4,112,41,108,37,105,31,98,24,85,22,80,25,70,28,62,30,55,33,48,36,40,41],
 [-4,112,25,103,23,95,20,88,21,85,25,100,30,110,30],
 [-4,32,41,25,37,15,37,10,41],
 [-4,20,17,10,17,0,20,0,-3,45,-3,38,2,25,3,15,9],
 [0,122,41,112,41,115,36,116,30,120,33],
 [4,72,21,60,25,50,31,35,33,20,36,5,38,0,39,0,25,15,25,20,22,40,22,55,21,65,19],
 [4,178,26,175,30,160,32,148,31,143,28,150,24,165,23,178,22.5],
 [4,125,27,118,26,120,23,125,24],
 [4,122,8,112,9,110,14,103,15,92,14,88,13.5,84,18,75,18,66,14,62,10,58,7,64,5,72,8,80,10,85,8,90,6,85,-3,108,-3,108,3,115,6],
 [-8,172,17,162,19,155,17,157,13,165,12,170,13],
 [-8,172,41,168,38,150,38,145,41],
 [-8,85,32,72,31,60,33,50,37,40,41,85,41],
 [-8,100,37,95,35,90,37,95,39],
 [-8,30,5,15,8,0,3,0,-3,22,-3,28,2],
 [8,62,24,55,26,45,29,35,30,30,28,40,26,50,24.5,60,22.8],
 [8,28,30,22,32.5,10,35,0,37,0,31.5,15,30.5],
 [8,167,30,160,30.8,152,29,153,27,165,26.8],
 [-12,65,41,60,38,52,39,45,41]
];
const p7Mjo = [
 [0,0,37.5,5,36.6,15.8,33.2,20.7,30.3,37.5,29.3,49,27.7,57.6,26.4,61,24,59.4,23.3,44.3,25,27,27,21.2,30,14.4,31,0,32],
 [0,180,38.7,176.6,40.5]
];
const p7Low = [
 [0,180,29.3,167,31.9,151.6,32.5,147.4,30.8,149,27.4,164.7,24.5,180,22.3],
 [1,73.2,14.4,69,15.2,66.4,14.4,67.8,13.3,72,13.3],
 [0,131,0,123,1.9,99,3.2,89.5,2.4,81,0],
 [0,69.6,0,63,6.7,54.6,8.2,45,7.2,35.6,3.4,26,0],
 [1,46.9,30.3,46.3,32.7,36.7,36,21,38.5,8,39.4,1,36.5,1,34.6,9,32.2,21,30.8,39,29.8,46.3,29.6]
];
const p7Er = [
 [1,133.2,27,130,30.3,120.4,32.7,114.5,32.7,113.3,29.8,112.7,25.5,118,23,125,23.6,131,25.5],
 [0,100.7,0,96.5,2.4,87,4,77.4,3.4,75.6,0]
];
const p7Kelvin = [
 [1,177.8,28.8,170.7,31,162.3,31,156.6,28.8,158,27.4,167,26.7,175.4,26.9],
 [0,30,40.5,27,37.7,15.5,38,1,39]
];
const p7Storms = [];

/* ---------- panel 8: 21-Aug to 25-Aug ---------- */
const p8Shading = [
 [-4,185,41,125,41,130,37,150,36,165,35,185,34],
 [-4,185,21,165,24,150,27,130,29,120,32,113,35,110,28,105,24,100,19,108,20,120,22,135,18,150,17,165,15,175,14,185,17],
 [-4,185,6,170,5,162,3,163,-3,185,-3],
 [-4,80,5,72,4,70,-3,82,-3],
 [-4,115,41,112,30,105,26,98,20,85,20,78,25,70,27,60,29,50,33,40,38,35,41],
 [-4,44,17,30,22,20,25,10,26,10,22,0,22,0,14,20,14,35,14],
 [-4,27,41,20,37,5,35,0,36,0,41],
 [-4,45,-3,42,2,30,3,20,5,10,8,0,15,0,-3],
 [4,185,22,170,24,155,26,140,28,125,30,118,33,115,41,128,41,132,37,145,34.5,160,33,175,32,185,30],
 [4,72,20,70,14.5,60,15,50,18,40,23,25,27,12,30,5,32,0,34,0,36,5,37,15,37,30,36.5,30,34,45,28,55,26,62,26],
 [4,116.8,17.3,98.9,19.7,93,15.3,87,12.5,84.5,5.8,90.5,1.9,98.9,-1,130,-1,156.6,2.9,160,7.7,147.4,11.5,127,11.5,114,14.4],
 [4,66,-1,62,7,55,11.5,45,11,39,8,40,4,45,2,52,-3,65,-3],
 [8,185,28,178,29,172,26,180,23,185,23],
 [8,170,30,163,30.5,162,29.3,168,29],
 [8,140,31,135,33,125,36,122,34,125,32,135,30],
 [8,40,31,35,30.5,35,29.3,40,29],
 [8,102.5,6.5,100.5,6.3,101,5],
 [8,90,6.2,88.5,5.7,89.5,4.8],
 [-8,180,41,176,38.5,165,39,160,41],
 [-8,80,32,75,32,60,33,52,36,42,38,40,41,82,41],
 [-8,108,27,100,29,95,26,100,24],
 [-8,100,37,95,36,93,33,90,33,92,37],
 [-8,25,-3,20,0.5,12,1,0,3,0,-3],
 [-12,180,41,179,39.5,174,40,172,41]
];
const p8Mjo = [
 [1,33.6,27,29.7,27.4,27.5,27,32,26.3]
];
const p8Low = [
 [0,180,28.8,167,31.7,152.7,32.6,147.4,30.7,150.3,27.4,164.7,24.5,180,22.8],
 [0,125.8,0,116.8,1.2,98.9,1.4,89.5,0],
 [0,67.8,0,63,5.8,54.6,8.3,46.3,7.7,35.6,3.4,27.3,0],
 [1,36.9,33.1,33,36.5,22.3,38.4,12.7,38.9,6,35.5,9,33.1,22.3,32.2,34.3,32.3]
];
const p8Er = [
 [1,110.3,14.9,107.3,17.5,100.5,16.8,101,14.9,104,11.5,108.2,12,109.7,13.4],
 [0,110.9,0,109.7,2.9,104.9,5,97.7,3.8,96.5,0]
];
const p8Kelvin = [
 [1,79.8,25.9,75,27.4,67.8,27,69,25.4,75,24.8,79.2,25.4]
];
const p8Storms = [];

/* ---------- panel labels ---------- */
const panelTitles = ['17-Jul to 21-Jul','22-Jul to 26-Jul','27-Jul to 31-Jul','1-Aug to 5-Aug','6-Aug to 10-Aug','11-Aug to 15-Aug','16-Aug to 20-Aug','21-Aug to 25-Aug'];

/* ---------- layout ---------- */
const SVGNS = 'http://www.w3.org/2000/svg';
const panelHost = document.getElementById('panels');
const barHost = document.getElementById('colorbar');
const plotW = 634, plotH = 141;
const colLeft = [102, 845];
const rowTop = [45, 270, 495, 719];
const titleGap = [8, 8, 8, 14];

function lonToX(lonW, left) { return left + (180 - lonW) / 180 * plotW; }
function latToY(lat, top) { return top + (40 - lat) / 40 * plotH; }
function shadeColor(level) { return colorbarColors[shadeLevels.indexOf(level)]; }
function make(tag, attrs) {
  const n = document.createElementNS(SVGNS, tag);
  for (const k in attrs) n.setAttribute(k, attrs[k]);
  return n;
}
function project(flat, left, top) {
  const pts = [];
  for (let i = 0; i + 1 < flat.length; i += 2) pts.push([lonToX(flat[i], left), latToY(flat[i + 1], top)]);
  return pts;
}
function smoothPath(pts, closed) {
  const n = pts.length;
  const at = i => closed ? pts[(i + n) % n] : pts[Math.max(0, Math.min(n - 1, i))];
  let d = 'M' + pts[0][0].toFixed(1) + ' ' + pts[0][1].toFixed(1);
  const last = closed ? n : n - 1;
  for (let i = 0; i < last; i++) {
    const p0 = at(i - 1), p1 = at(i), p2 = at(i + 1), p3 = at(i + 2);
    const c1x = p1[0] + (p2[0] - p0[0]) / 6, c1y = p1[1] + (p2[1] - p0[1]) / 6;
    const c2x = p2[0] - (p3[0] - p1[0]) / 6, c2y = p2[1] - (p3[1] - p1[1]) / 6;
    d += 'C' + c1x.toFixed(1) + ' ' + c1y.toFixed(1) + ' ' + c2x.toFixed(1) + ' ' + c2y.toFixed(1) + ' ' + p2[0].toFixed(1) + ' ' + p2[1].toFixed(1);
  }
  return d + (closed ? 'Z' : '');
}
function drawOrder(level) {
  if (level === 0) return 1;
  return Math.abs(level) / 4;
}
function drawContours(group, lines, color, seriesName, left, top) {
  lines.forEach(function (line) {
    const path = make('path', { d: smoothPath(project(line.slice(1), left, top), line[0] === 1), fill: 'none', stroke: color, 'stroke-width': 2, 'stroke-linejoin': 'round' });
    
    
    group.appendChild(path);
  });
}
function drawStorm(group, storm, left, top) {
  const cx = lonToX(storm[0], left), cy = latToY(storm[1], top);
  const g = make('g', { transform: 'translate(' + cx.toFixed(1) + ' ' + cy.toFixed(1) + ')' });
  
  
  g.appendChild(make('path', { d: 'M3 -10 C-1 -9 -6 -6 -6 0 C-6 4 -4 6 -3 7 L-3 10 C1 9 6 6 6 0 C6 -4 4 -6 3 -7Z', fill: '#c4161c', stroke: '#000', 'stroke-width': 1.4 }));
  g.appendChild(make('circle', { cx: 0, cy: 0, r: 3.8, fill: '#fff' }));
  const t = make('text', { x: 0, y: 2.6, 'font-size': 7.5, 'font-weight': 'bold', 'text-anchor': 'middle', fill: '#c4161c' });
  t.textContent = storm[2];
  g.appendChild(t);
  group.appendChild(g);
}
function drawPanel(index, col, row, shading, mjo, low, er, kelvin, storms) {
  const left = colLeft[col], top = rowTop[row];
  const panel = make('g', {});
  
  
  panelHost.appendChild(panel);

  const clip = make('clipPath', { id: 'clip' + index });
  clip.appendChild(make('rect', { x: left, y: top, width: plotW, height: plotH }));
  panel.appendChild(clip);

  const field = make('g', { 'clip-path': 'url(#clip' + index + ')' });
  
  
  panel.appendChild(field);
  field.appendChild(make('rect', { x: left, y: top, width: plotW, height: plotH, fill: '#f7f7f7' }));

  shading.map(function (s, i) { return [s, i]; })
    .sort(function (a, b) { return drawOrder(a[0][0]) - drawOrder(b[0][0]) || a[1] - b[1]; })
    .forEach(function (item) {
      const s = item[0];
      const path = make('path', { d: smoothPath(project(s.slice(1), left, top), true), fill: shadeColor(s[0]) });
      
      
      field.appendChild(path);
    });

  coastLines.forEach(function (line) {
    const pts = project(line, left, top).map(function (p) { return p[0].toFixed(1) + ',' + p[1].toFixed(1); }).join(' ');
    const coast = make('polyline', { points: pts, fill: 'none', stroke: '#626262', 'stroke-width': 2, 'stroke-linejoin': 'round' });
    
    
    field.appendChild(coast);
  });

  drawContours(field, er, '#ff0000', 'er', left, top);
  drawContours(field, kelvin, '#0000ff', 'kelvin', left, top);
  drawContours(field, low, '#a020f0', 'low', left, top);
  drawContours(field, mjo, '#000000', 'mjo', left, top);
  storms.forEach(function (st) { drawStorm(field, st, left, top); });

  const frame = make('rect', { x: left, y: top, width: plotW, height: plotH, fill: 'none', stroke: '#000', 'stroke-width': 3 });
  
  
  panel.appendChild(frame);

  const ticks = make('g', { stroke: '#000', 'stroke-width': 1.5 });
  
  
  panel.appendChild(ticks);
  for (let lon = 0; lon <= 180; lon += 10) {
    const x = lonToX(lon, left), major = lonTickValues.indexOf(lon) >= 0, len = major ? 6 : 3;
    ticks.appendChild(make('line', { x1: x, y1: top, x2: x, y2: top - len, 'stroke-width': major ? 2 : 1.3 }));
    ticks.appendChild(make('line', { x1: x, y1: top + plotH, x2: x, y2: top + plotH + len, 'stroke-width': major ? 2 : 1.3 }));
  }
  for (let lat = 0; lat <= 40; lat += 2) {
    const y = latToY(lat, top), major = latTickValues.indexOf(lat) >= 0, len = major ? 6 : 3;
    ticks.appendChild(make('line', { x1: left, y1: y, x2: left - len, y2: y, 'stroke-width': major ? 2 : 1.2 }));
    ticks.appendChild(make('line', { x1: left + plotW, y1: y, x2: left + plotW + len, y2: y, 'stroke-width': major ? 2 : 1.2 }));
  }

  if (col === 0) {
    latTickValues.forEach(function (lat, i) {
      const label = make('text', { x: 74, y: latToY(lat, top) + 12, 'font-size': 34, 'text-anchor': 'end' });
      
      
      label.textContent = latTickLabels[i];
      panel.appendChild(label);
    });
  }
  if (row === 3) {
    lonTickValues.forEach(function (lon, i) {
      const label = make('text', { x: lonToX(lon, left), y: 914, 'font-size': 34, 'text-anchor': 'middle' });
      
      
      label.textContent = lonTickLabels[i];
      panel.appendChild(label);
    });
  }
  const titleBase = (index === 0) ? top - 8 : (index === 4 ? top - 14 : top - (col === 0 ? titleGap[row] : 14));
  const title = make('text', { x: left - 2, y: titleBase, 'font-size': 34.9 });
  
  
  title.textContent = panelTitles[index];
  panel.appendChild(title);
}

drawPanel(0, 0, 0, p1Shading, p1Mjo, p1Low, p1Er, p1Kelvin, p1Storms);
drawPanel(1, 0, 1, p2Shading, p2Mjo, p2Low, p2Er, p2Kelvin, p2Storms);
drawPanel(2, 0, 2, p3Shading, p3Mjo, p3Low, p3Er, p3Kelvin, p3Storms);
drawPanel(3, 0, 3, p4Shading, p4Mjo, p4Low, p4Er, p4Kelvin, p4Storms);
drawPanel(4, 1, 0, p5Shading, p5Mjo, p5Low, p5Er, p5Kelvin, p5Storms);
drawPanel(5, 1, 1, p6Shading, p6Mjo, p6Low, p6Er, p6Kelvin, p6Storms);
drawPanel(6, 1, 2, p7Shading, p7Mjo, p7Low, p7Er, p7Kelvin, p7Storms);
drawPanel(7, 1, 3, p8Shading, p8Mjo, p8Low, p8Er, p8Kelvin, p8Storms);

const observedLabel = make('text', { x: 737, y: 37, 'font-size': 34.7, 'text-anchor': 'end' });


observedLabel.textContent = 'Observed';
panelHost.appendChild(observedLabel);

const forecastLabel = make('text', { x: 1478, y: 37, 'font-size': 34.7, 'text-anchor': 'end' });


forecastLabel.textContent = 'CFS Forecast';
panelHost.appendChild(forecastLabel);

/* ---------- colour bar ---------- */
const barLeft = 229, barTop = 976, barBoxW = 54.9, barH = 23;
colorbarColors.forEach(function (color, i) {
  const box = make('rect', { x: barLeft + i * barBoxW, y: barTop, width: barBoxW, height: barH, fill: color, stroke: '#000', 'stroke-width': 1.6 });
  
  
  barHost.appendChild(box);
});
colorbarLabels.forEach(function (value, i) {
  const label = make('text', { x: barLeft + (i + 1) * barBoxW, y: 1028, 'font-size': 30, 'text-anchor': 'middle' });
  
  
  label.textContent = String(value);
  barHost.appendChild(label);
});
</script>
</body>
</html>
